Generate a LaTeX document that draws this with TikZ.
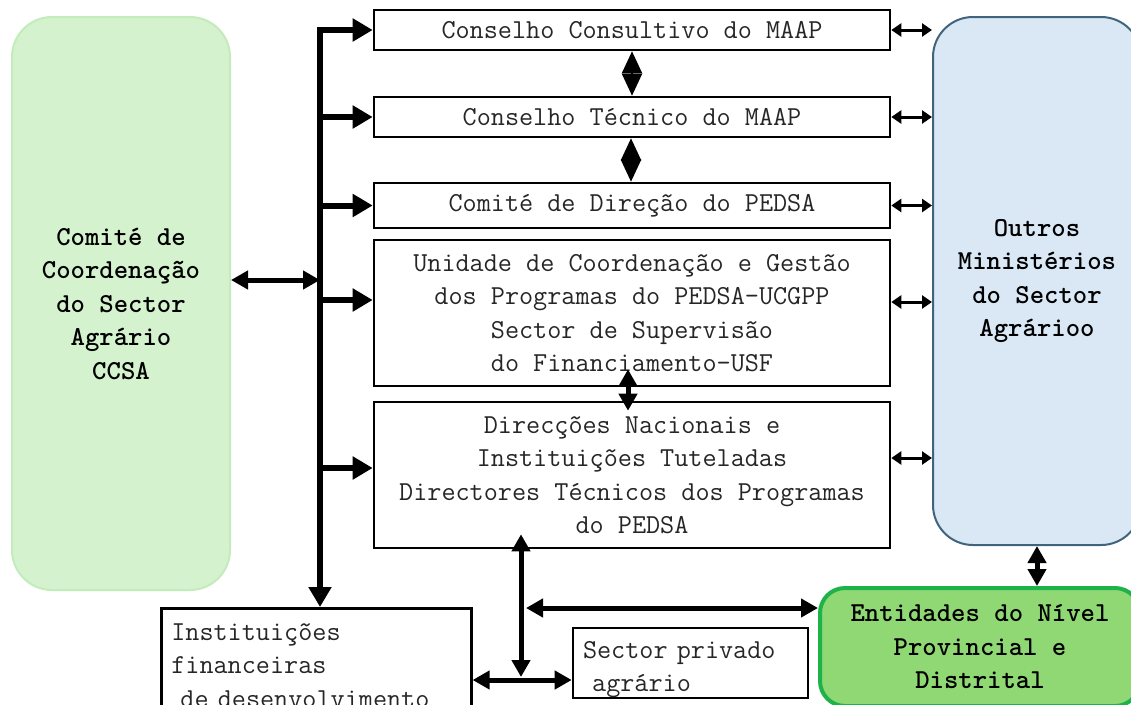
\documentclass[tikz,border=0pt]{standalone}
\usepackage{fontspec}
\usepackage{xcolor}
\usetikzlibrary{arrows.meta, positioning}
\newcommand{\boxfont}{\ttfamily\fontsize{27.4}{33.5}\selectfont}
\definecolor{ccsafill}{HTML}{D5F2CF}
\definecolor{ccsaline}{HTML}{C3EBBB}
\definecolor{outrosfill}{HTML}{DAE8F6}
\definecolor{outrosline}{HTML}{40647C}
\definecolor{entfill}{HTML}{8FD874}
\definecolor{entline}{HTML}{1DB34A}

\begin{document}
\begin{tikzpicture}[x=1pt,y=-1pt,
    bushead/.tip={Triangle[length=20pt,width=22pt]},
    midhead/.tip={Triangle[length=17pt,width=18pt]},
    smallhead/.tip={Triangle[length=10pt,width=13pt]},
    diamhead/.tip={Triangle[length=22pt,width=20pt]}]
        \useasboundingbox (0,0) rectangle (1131,704);
        \clip (0,0) rectangle (1131,704);
        % rounded side boxes
        \begin{scope}[every node/.style={rounded corners=40pt,align=center,font=\boxfont\bfseries}]
          \node[draw=ccsaline,fill=ccsafill,line width=2pt,minimum width=218pt,minimum height=573pt] (ccsa) at (121,303.5) {Comité de\\Coordenação\\do Sector\\Agrário\\CCSA};
          \node[draw=outrosline,fill=outrosfill,line width=2pt,minimum width=208pt,minimum height=528pt] (outros) at (1037,281) {Outros\\Ministérios\\do Sector\\Agrárioo};
          \node[draw=entline,fill=entfill,line width=4pt,rounded corners=25pt,minimum width=320pt,minimum height=118pt] (entidades) at (980,647) {Entidades do Nível\\Provincial e\\Distrital};
        \end{scope}
        % central boxes
        \begin{scope}[every node/.style={draw,line width=2.6pt,inner sep=0pt,align=center,font=\boxfont,text=black!85,minimum width=516pt}]
          \node[minimum height=40pt] (consultivo) at (632,30) {Conselho Consultivo do MAAP};
          \node[minimum height=40pt] (tecnico) at (632,117) {Conselho Técnico do MAAP};
          \node[minimum height=45pt] (direcao) at (632,205.5) {Comité de Direção do PEDSA};
          \node[minimum height=146pt] (ucgpp) at (632,313) {Unidade de Coordenação e Gestão\\dos Programas do PEDSA-UCGPP\\Sector de Supervisão\\do Financiamento-USF};
          \node[minimum height=146pt] (direccoes) at (632,475) {Direcções Nacionais e\\Instituições Tuteladas\\Directores Técnicos dos Programas\\do PEDSA};
        \end{scope}
        % bottom boxes
        \begin{scope}[every node/.style={draw,line width=2.6pt,inner xsep=10pt,inner ysep=0pt,align=left,font=\boxfont,text=black!85}]
          \node[anchor=north west,text width=290pt,minimum height=114pt] (instituicoes) at (160,607) {Instituições\\financeiras\\\ de desenvolvimento};
          \node[text width=215pt,text height=30pt,minimum height=68pt] (privado) at (690.5,663) {Sector privado\\\ agrário};
        \end{scope}
        \coordinate (bustop) at (320,30);
        \coordinate (junction) at (521,680);
        \coordinate (branch) at (526,608);
        % bus on the left
        \draw[line width=6pt,bushead-bushead] (consultivo.west) -- (bustop) -- (bustop |- instituicoes.north);
        \begin{scope}[every edge/.style={draw=black,line width=6pt,-bushead}]
          \path (bustop |- tecnico.west) edge (tecnico.west);
          \path (bustop |- direcao.west) edge (direcao.west);
          \path ([yshift=13pt]ucgpp.west -| bustop) edge ([yshift=13pt]ucgpp.west);
          \path ([yshift=7pt]direccoes.west -| bustop) edge ([yshift=7pt]direccoes.west);
        \end{scope}
        % links to the right
        \begin{scope}[every edge/.style={draw=black,line width=3pt,smallhead-smallhead}]
          \path (consultivo.east) edge (consultivo.east -| outros.west);
          \path (tecnico.east) edge (tecnico.east -| outros.west);
          \path (direcao.east) edge (direcao.east -| outros.west);
          \path ([yshift=11pt]ucgpp.east) edge ([yshift=11pt]ucgpp.east -| outros.west);
          \path ([yshift=17pt]direccoes.east) edge ([yshift=17pt]direccoes.east -| outros.west);
        \end{scope}
        % other links
        \begin{scope}[every edge/.style={draw=black,line width=5pt,midhead-midhead}]
          \path ([yshift=23.5pt]ccsa.east) edge ([yshift=23.5pt]ccsa.east -| bustop);
          \path ([xshift=-4pt,yshift=18pt]ucgpp.south) edge ([xshift=-4pt,yshift=-10pt]direccoes.north);
          \path ([yshift=15pt]direccoes.south -| junction) edge ([yshift=3pt]junction);
          \path (branch) edge (branch -| entidades.west);
          \path (instituicoes.east |- junction) edge (privado.west |- junction);
          \path (outros.south) edge (outros.south |- entidades.north);
          \path (consultivo.south) edge[diamhead-diamhead,line width=2pt] (tecnico.north);
          \path ([xshift=-1pt]tecnico.south) edge[diamhead-diamhead,line width=2pt] ([xshift=-1pt]direcao.north);
        \end{scope}
      \end{tikzpicture}
\end{document}
